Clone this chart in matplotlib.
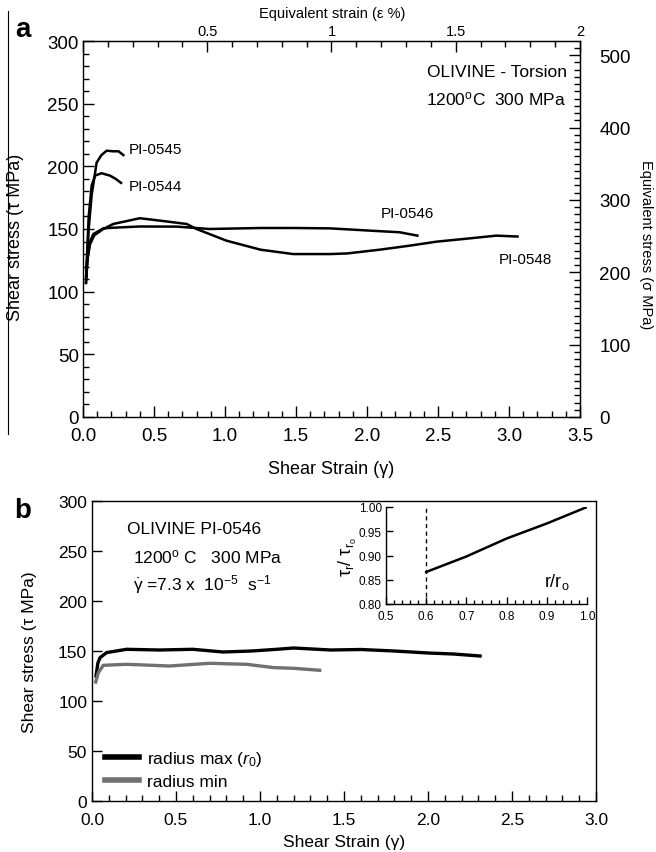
import numpy as np
import matplotlib
matplotlib.use("Agg")
import matplotlib.pyplot as plt
from matplotlib.ticker import MultipleLocator, FixedLocator
from matplotlib.lines import Line2D

plt.rcParams["font.family"] = ["Liberation Sans", "DejaVu Sans"]
plt.rcParams["mathtext.fontset"] = "custom"
plt.rcParams["mathtext.rm"] = "Liberation Sans"
plt.rcParams["mathtext.it"] = "Liberation Sans:italic"
plt.rcParams["mathtext.bf"] = "Liberation Sans:bold"

# ---- panel a : shear stress vs shear strain ----
g_0545 = [0.022, 0.04, 0.061, 0.096, 0.13, 0.167, 0.21, 0.25, 0.284]
t_0545 = [112, 150, 177, 203, 209, 212.5, 212, 212, 209]

g_0544 = [0.022, 0.04, 0.061, 0.085, 0.13, 0.19, 0.23, 0.268]
t_0544 = [112, 160, 184.6, 192.6, 194.5, 192.6, 190, 186.8]

g_0546 = [0.021, 0.035, 0.049, 0.073, 0.143, 0.21, 0.40, 0.66, 0.89,
          1.25, 1.48, 1.74, 2.02, 2.23, 2.355]
t_0546 = [107, 130, 140, 146, 150.5, 151, 152, 151.9, 150,
          150.8, 150.8, 150.5, 148.7, 147.4, 144.7]

g_0548 = [0.021, 0.03, 0.05, 0.08, 0.143, 0.213, 0.40, 0.54, 0.73, 0.80,
          1.01, 1.25, 1.48, 1.74, 1.86, 2.09, 2.30, 2.49, 2.73, 2.91, 3.06]
t_0548 = [107, 125, 138, 145, 150, 154, 158.6, 156.7, 154, 150,
          140.7, 133.5, 130, 130, 130.5, 133.5, 136.7, 139.9, 142.6, 144.7, 144]

labels_a = ["PI-0545", "PI-0544", "PI-0546", "PI-0548"]
label_x_a = [0.32, 0.32, 2.10, 2.925]
label_y_a = [214, 184, 163, 126]

# ---- panel b : radius max / min ----
g_max = [0.024, 0.035, 0.048, 0.087, 0.206, 0.40, 0.60, 0.78, 0.95, 1.10,
         1.20, 1.42, 1.60, 1.80, 2.00, 2.15, 2.31]
t_max = [125, 138, 143.4, 148.4, 151.7, 151, 151.7, 149, 150, 151.7,
         153, 151, 151.5, 150, 148, 147, 145]

g_min = [0.022, 0.038, 0.067, 0.206, 0.46, 0.70, 0.92, 1.08, 1.20, 1.355]
t_min = [119, 128.4, 135.7, 136.7, 135, 137.7, 136.7, 133.4, 132.7, 130.7]

# inset: tau_r / tau_ro vs r / ro
r_ratio = [0.6, 0.7, 0.8, 0.9, 1.0]
tau_ratio = [0.866, 0.898, 0.935, 0.966, 1.0]

W, H = 656, 853
fig = plt.figure(figsize=(W / 100, H / 100), dpi=100)


def px_axes(l, t, r, b):
    return fig.add_axes([l / W, 1 - b / H, (r - l) / W, (b - t) / H])


# ================= panel a =================
ax1 = px_axes(83, 42, 580, 418)
for g, t in [(g_0545, t_0545), (g_0544, t_0544), (g_0546, t_0546), (g_0548, t_0548)]:
    ax1.plot(g, t, color="black", lw=1.8)
for lab, x, y in zip(labels_a, label_x_a, label_y_a):
    ax1.text(x, y, lab, fontsize=11, va="center", ha="left")

ax1.set_xlim(0, 3.5)
ax1.set_ylim(0, 300)
ax1.xaxis.set_major_locator(MultipleLocator(0.5))
ax1.xaxis.set_minor_locator(MultipleLocator(0.1))
ax1.yaxis.set_major_locator(MultipleLocator(50))
ax1.yaxis.set_minor_locator(MultipleLocator(10))
ax1.xaxis.set_major_formatter(plt.FormatStrFormatter("%.1f"))
ax1.tick_params(which="both", direction="in", labelsize=13.5, width=1.0)
ax1.tick_params(which="major", length=8)
ax1.tick_params(which="minor", length=4)
ax1.tick_params(axis="y", pad=3)
ax1.tick_params(axis="x", pad=7)
for s in ax1.spines.values():
    s.set_linewidth(1.0)

ax1.set_xlabel("Shear Strain (γ)", fontsize=13)
ax1.xaxis.set_label_coords(0.5, -0.115)
ax1.set_ylabel("Shear stress (τ MPa)", fontsize=13)
ax1.yaxis.set_label_coords(-0.118, 0.48)

sec_x = ax1.secondary_xaxis("top", functions=(lambda g: g * 2 / 3.5, lambda e: e * 3.5 / 2))
sec_x.xaxis.set_major_locator(FixedLocator([0, 0.5, 1, 1.5, 2]))
sec_x.xaxis.set_minor_locator(MultipleLocator(0.1))
sec_x.xaxis.set_major_formatter(plt.FuncFormatter(lambda v, p: "" if v == 0 else "%g" % v))
sec_x.tick_params(which="both", direction="in", labelsize=10.5, width=1.0, pad=2)
sec_x.tick_params(which="major", length=8)
sec_x.tick_params(which="minor", length=4)
fig.text(332 / W, 1 - 14 / H, "Equivalent strain (ε %)", fontsize=10.5, ha="center", va="center")

sec_y = ax1.secondary_yaxis("right", functions=(lambda t: t * np.sqrt(3), lambda s: s / np.sqrt(3)))
sec_y.yaxis.set_major_locator(MultipleLocator(100))
sec_y.yaxis.set_minor_locator(MultipleLocator(10))
sec_y.tick_params(which="both", direction="in", labelsize=13.5, width=1.0, pad=14)
sec_y.tick_params(which="major", length=8)
sec_y.tick_params(which="minor", length=4)
fig.text(646 / W, 1 - 245 / H, "Equivalent stress (σ MPa)", fontsize=10.5, rotation=270,
         ha="center", va="center")

ax1.text(3.41, 276, "OLIVINE - Torsion", fontsize=12.5, ha="right", va="center")
ax1.text(3.40, 254, "1200$^{\\mathrm{o}}$C  300 MPa", fontsize=12.5, ha="right", va="center")

fig.text(23 / W, 1 - 30 / H, "a", fontsize=20, fontweight="bold", ha="center", va="center")
fig.add_artist(Line2D([8 / W, 8 / W], [1 - 12 / H, 1 - 435 / H], color="black", lw=0.8))

# ================= panel b =================
ax2 = px_axes(92, 502, 596, 802)
ax2.plot(g_max, t_max, color="black", lw=2.4, label="radius max ($r_0$)")
ax2.plot(g_min, t_min, color="#707070", lw=2.4, label="radius min")
ax2.set_xlim(0, 3.0)
ax2.set_ylim(0, 300)
ax2.xaxis.set_major_locator(MultipleLocator(0.5))
ax2.xaxis.set_minor_locator(MultipleLocator(0.1))
ax2.yaxis.set_major_locator(MultipleLocator(50))
ax2.xaxis.set_major_formatter(plt.FormatStrFormatter("%.1f"))
ax2.tick_params(which="both", direction="in", labelsize=12.5, width=1.0)
ax2.tick_params(which="major", length=7)
ax2.tick_params(which="minor", length=4)
ax2.tick_params(axis="x", pad=8)
for s in ax2.spines.values():
    s.set_linewidth(1.0)
ax2.set_xlabel("Shear Strain (γ)", fontsize=12.5)
ax2.xaxis.set_label_coords(0.5, -0.11)
ax2.set_ylabel("Shear stress (τ MPa)", fontsize=12.5)
ax2.yaxis.set_label_coords(-0.11, 0.5)

leg = ax2.legend(loc="lower left", bbox_to_anchor=(0.005, 0.005), frameon=False,
                 fontsize=12.5, handlelength=1.95, handletextpad=0.5, labelspacing=0.35,
                 borderaxespad=0.2)
for h in leg.get_lines():
    h.set_linewidth(4)

ax2.text(0.21, 273, "OLIVINE PI-0546", fontsize=12.5, ha="left", va="center")
ax2.text(0.245, 245, "1200$^{\\mathrm{o}}$ C   300 MPa", fontsize=12.5, ha="left", va="center")
ax2.text(0.245, 217, "$\\dot{\\mathrm{\\gamma}}$ =7.3 x  10$^{\\mathrm{-5}}$  s$^{\\mathrm{-1}}$",
         fontsize=12.5, ha="left", va="center")

fig.text(23 / W, 1 - 511 / H, "b", fontsize=20, fontweight="bold", ha="center", va="center")

# inset
axi = px_axes(386, 508, 587, 605)
axi.plot(r_ratio, tau_ratio, color="black", lw=1.8)
axi.plot([0.6, 0.6], [0.80, 1.00], color="black", lw=1.0, ls=(0, (3, 2.5)))
axi.set_xlim(0.5, 1.0)
axi.set_ylim(0.80, 1.00)
axi.spines["top"].set_visible(False)
axi.spines["right"].set_visible(False)
axi.xaxis.set_major_locator(MultipleLocator(0.1))
axi.xaxis.set_minor_locator(MultipleLocator(0.02))
axi.yaxis.set_major_locator(MultipleLocator(0.05))
axi.xaxis.set_major_formatter(plt.FormatStrFormatter("%.1f"))
axi.yaxis.set_major_formatter(plt.FormatStrFormatter("%.2f"))
axi.tick_params(which="both", direction="in", labelsize=8.5, width=1.0)
axi.tick_params(axis="x", pad=4)
axi.tick_params(axis="y", pad=3)
axi.tick_params(which="major", length=5)
axi.tick_params(which="minor", length=3)
for s in axi.spines.values():
    s.set_linewidth(1.0)
axi.set_ylabel("$\\mathrm{\\tau_r}$/ $\\mathrm{\\tau_{r_o}}$", fontsize=13, labelpad=0)
axi.text(0.892, 0.848, "r/r$_\\mathrm{o}$", fontsize=13, ha="left", va="center")

fig.savefig("out.png", dpi=100)
